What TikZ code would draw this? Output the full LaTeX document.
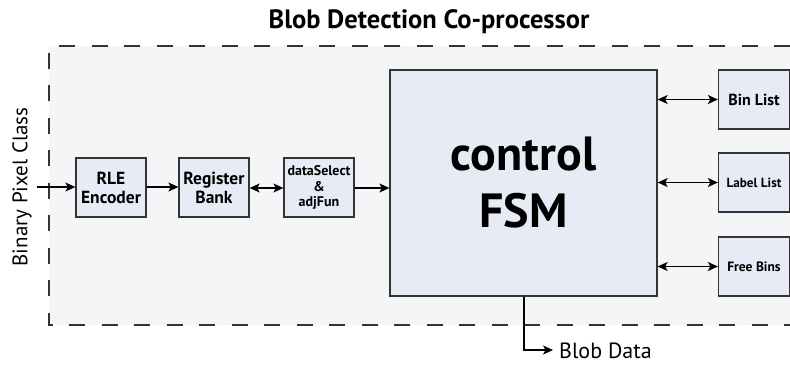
\documentclass[tikz,border=0pt]{standalone}
\usepackage{fontspec}
\setmainfont{PT Sans}
\usetikzlibrary{arrows.meta}
\definecolor{bgfill}{HTML}{F4F5F7}
\definecolor{boxfill}{HTML}{E7EBF5}
\definecolor{edge}{HTML}{333333}
\tikzset{
  blk/.style={draw=edge, line width=1.3pt, fill=boxfill, inner sep=0pt, align=center, font=\bfseries\fontsize{17.5}{19}\selectfont},
  tip/.tip={Stealth[length=10pt,width=9pt,inset=2.5pt]},
  conn/.style={line width=1.2pt, -tip},
  biconn/.style={line width=1.2pt, tip-tip},
}
\begin{document}
\begin{tikzpicture}[x=1pt,y=-1pt]
\useasboundingbox (0,0) rectangle (790,365);
% co-processor boundary
\fill[bgfill] (49,46) rectangle (790,325);
\draw[edge, line width=1.6pt, dash pattern=on 16pt off 16.5pt] (790,46) -- (49,46) -- (49,325) -- (790,325);
\node[font=\bfseries\fontsize{26.5}{28}\selectfont] (title) at (429,22) {Blob Detection Co-processor};
% pipeline blocks
\node[blk, minimum width=70pt, minimum height=59pt] (rle) at (111,187.5) {RLE\\Encoder};
\node[blk, minimum width=70pt, minimum height=59pt] (reg) at (214,187.5) {Register\\Bank};
\node[blk, minimum width=70pt, minimum height=59pt, font=\bfseries\fontsize{14}{15.5}\selectfont] (sel) at (319,187.5) {dataSelect\\\&\\adjFun};
\node[blk, minimum width=267pt, minimum height=226pt, font=\bfseries\fontsize{48}{57}\selectfont] (fsm) at (523.5,183) {control\\FSM};
% memories
\node[blk, minimum width=71pt, minimum height=59pt, font=\bfseries\fontsize{16}{18}\selectfont] (bin) at (754,99.5) {Bin List};
\node[blk, minimum width=71pt, minimum height=59pt, font=\bfseries\fontsize{13.2}{15}\selectfont] (lab) at (754,182.5) {Label List};
\node[blk, minimum width=71pt, minimum height=59pt, font=\bfseries\fontsize{13.5}{15}\selectfont] (free) at (754,266.5) {Free Bins};
% input and output labels
\node[rotate=90, font=\fontsize{21}{24}\selectfont, anchor=center] (inlbl) at (22,187) {Binary Pixel Class};
\coordinate (inp) at (37,187);
\coordinate (outc) at (524,350);
\node[anchor=base west, font=\fontsize{22}{24}\selectfont, inner sep=0pt] (outlbl) at (559,358) {Blob Data};
% connectors
\draw[conn] (inp) -- (rle.west |- inp);
\draw[conn] (rle.east |- inp) -- (reg.west |- inp);
\draw[biconn] (reg.east |- 0,188) -- (sel.west |- 0,188);
\draw[conn] (sel.east |- 0,188) -- (fsm.west |- 0,188);
\draw[biconn] (fsm.east |- bin) -- (bin.west);
\draw[biconn] (fsm.east |- lab) -- (lab.west);
\draw[biconn] (fsm.east |- free) -- (free.west);
\draw[conn] (fsm.south -| outc) -- (outc) -- ([xshift=-6pt]outlbl.west |- outc);
\end{tikzpicture}
\end{document}
